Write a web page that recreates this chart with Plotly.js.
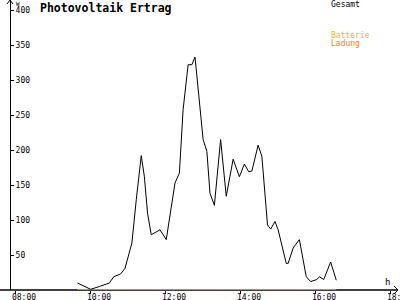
<!DOCTYPE html>
<html>
<head>
<meta charset="utf-8">
<script src="https://cdn.plot.ly/plotly-3.0.1.min.js"></script>
<style>html,body{margin:0;padding:0;background:#fff;}#chart{width:400px;height:300px;}</style>
</head>
<body>
<div id="chart"></div>
<script>
// Gesamt (W) over time
const gesamtTimes = ["09:40","10:01","10:15","10:31","10:38","10:49","10:56","11:07","11:14","11:22","11:27","11:32","11:38","11:45","11:52","12:02","12:09","12:16","12:23","12:29","12:37","12:43","12:48","13:01","13:07","13:12","13:19","13:29","13:38","13:49","13:59","14:07","14:14","14:19","14:29","14:35","14:44","14:49","14:56","15:01","15:14","15:17","15:25","15:35","15:46","15:53","16:03","16:07","16:14","16:25","16:34"];
const gesamtValues = [10,1,5,10,19,23,31,67,129,192,162,110,79,82,86,72,110,153,167,258,322,322,333,215,198,138,121,215,134,187,162,180,169,170,207,191,93,87,98,86,38,38,60,72,19,12,15,19,15,40,14];
// Batterie Ladung
const ladungTimes = ["09:40","16:34"];
const ladungValues = [0,0];
// Axis ticks
const xTickHours = [8,10,12,14,16,18];
const xTickLabels = ["08:00","10:00","12:00","14:00","16:00","18:00"];
const yTickVals = [50,100,150,200,250,300,350,400];

const toH = s => { const p = s.split(":"); return +p[0] + (+p[1])/60; };

const mono = "DejaVu Sans Mono, monospace";
const traces = [
  {x: ladungTimes.map(toH), y: ladungValues, mode: "lines", line: {color: "#FF8000", width: 2}, hoverinfo: "skip"},
  {x: gesamtTimes.map(toH), y: gesamtValues, mode: "lines", line: {color: "#000000", width: 1}, hoverinfo: "skip"}
];
const W = 400, H = 290;
const x0 = 8 - 15/37.5;
const xRange = [x0, x0 + W/37.5];
const yRange = [0, 414.5];
const px = v => v / W, py = v => 1 - v / H;
const layout = {
  width: 400, height: 300,
  margin: {l: 0, r: 0, t: 0, b: 10},
  paper_bgcolor: "#fff", plot_bgcolor: "#fff",
  showlegend: false,
  xaxis: {range: xRange, showgrid: false, zeroline: false, showline: false,
    tickvals: xTickHours, ticktext: xTickLabels, ticks: "outside", ticklen: 3, tickcolor: "#000",
    ticklabelshift: 9, ticklabelstandoff: -4, ticklabeloverflow: "allow",
    tickfont: {family: mono, size: 8, color: "#000"}, fixedrange: true},
  xaxis2: {range: xRange, overlaying: "x", anchor: "y", side: "bottom", showgrid: false, zeroline: false, showline: false,
    tickvals: xTickHours, ticks: "inside", ticklen: 3, tickcolor: "#000", showticklabels: false, fixedrange: true},
  yaxis: {range: yRange, anchor: "free", position: px(10), side: "right",
    showgrid: false, zeroline: false, showline: true, linecolor: "#000", linewidth: 1,
    tickvals: yTickVals, ticks: "outside", ticklen: 3, tickcolor: "#000", ticklabelstandoff: 0,
    tickfont: {family: mono, size: 8, color: "#000"}, fixedrange: true},
  yaxis2: {range: yRange, overlaying: "y", anchor: "free", position: px(10), side: "left",
    showgrid: false, zeroline: false, showline: false,
    tickvals: yTickVals, ticks: "outside", ticklen: 3, tickcolor: "#000", showticklabels: false, fixedrange: true},
  title: {text: "<b>Photovoltaik Ertrag</b>", font: {family: mono, size: 11.5, color: "#000"},
    x: 40/400, xanchor: "left", xref: "container", y: 1 - 7.5/300, yanchor: "middle", yref: "container"},
  shapes: [
    {type: "line", xref: "paper", yref: "paper", x0: 0, x1: px(398), y0: 0, y1: 0, line: {color: "#000", width: 1.5}, layer: "below"},
    {type: "path", xref: "paper", yref: "paper", path: "M " + px(394) + " " + (4/H) + " L " + px(398) + " 0 L " + px(394) + " " + (-4/H), line: {color: "#000", width: 1}},
    {type: "path", xref: "paper", yref: "paper", path: "M " + px(7) + " " + py(4) + " L " + px(10) + " 1 L " + px(13) + " " + py(4), line: {color: "#000", width: 1}}
  ],
  annotations: [
    {text: "W", xref: "paper", yref: "paper", x: px(14), y: py(3), xanchor: "left", yanchor: "middle", showarrow: false, font: {family: mono, size: 6, color: "#000"}},
    {text: "h", xref: "paper", yref: "paper", x: px(387), y: 8/H, xanchor: "center", yanchor: "middle", showarrow: false, font: {family: mono, size: 9, color: "#000"}},
    {text: "Gesamt", xref: "paper", yref: "paper", x: px(329), y: py(4.5), xanchor: "left", yanchor: "middle", showarrow: false, font: {family: mono, size: 8, color: "#000"}},
    {text: "Batterie", xref: "paper", yref: "paper", x: px(329), y: py(35.5), xanchor: "left", yanchor: "middle", showarrow: false, font: {family: mono, size: 8, color: "#FFB000"}},
    {text: "Ladung", xref: "paper", yref: "paper", x: px(329), y: py(43.5), xanchor: "left", yanchor: "middle", showarrow: false, font: {family: mono, size: 8, color: "#FF8000"}}
  ]
};
Plotly.newPlot("chart", traces, layout, {displayModeBar: false, staticPlot: true});
</script>
</body>
</html>
